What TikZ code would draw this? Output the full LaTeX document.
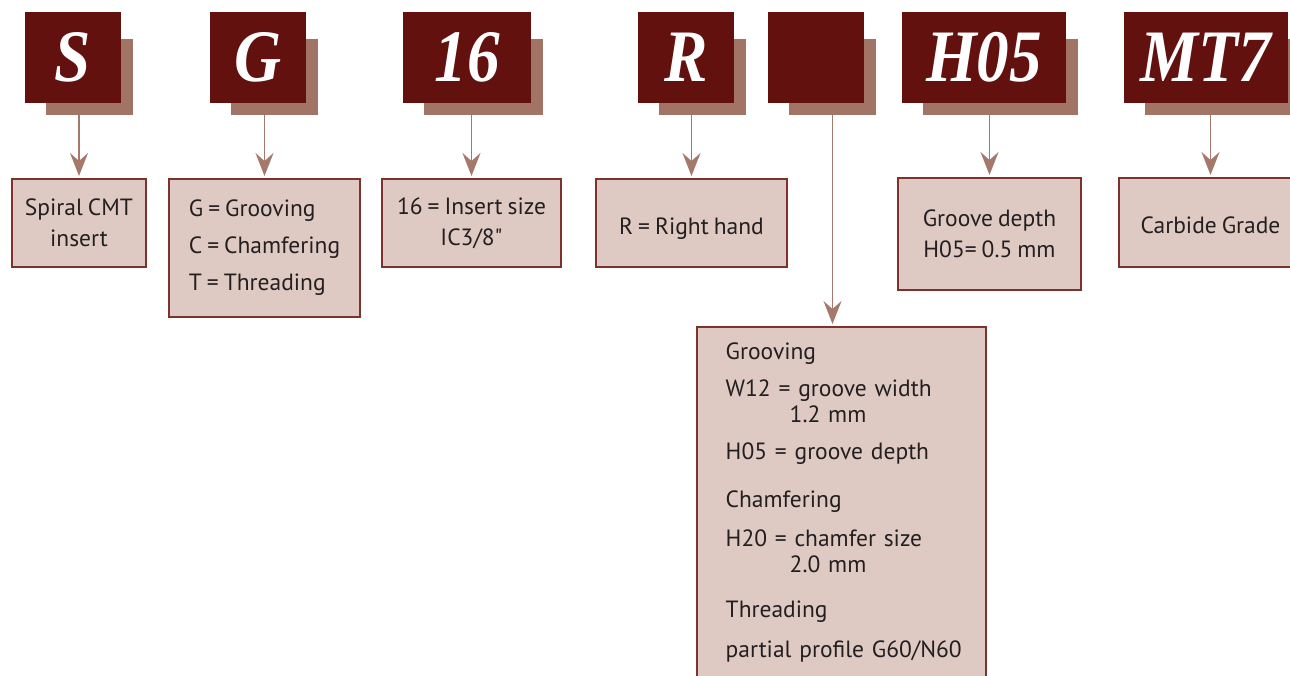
\documentclass[tikz,border=0pt]{standalone}
\usepackage{fontspec}
\setmainfont[WordSpace=0.8, Ligatures=TeXOff]{PT Sans}
\newfontfamily\codefont[FakeStretch=0.88]{Liberation Serif}
\usepackage{xcolor}
\usepackage{tikz}
\usetikzlibrary{arrows.meta}

\definecolor{codered}{RGB}{98,17,15}
\definecolor{shadebrown}{RGB}{162,116,102}
\definecolor{notefill}{RGB}{223,202,195}
\definecolor{noteline}{RGB}{125,50,45}
\definecolor{feedbrown}{RGB}{165,120,108}
\definecolor{notetext}{RGB}{35,31,32}

\begin{document}
\begin{tikzpicture}[
  x=1pt,
  y=-1pt,
  every node/.style={outer sep=0pt},
  codebox/.style={fill=codered, text=white, inner sep=0pt,
    font=\codefont\bfseries\itshape\fontsize{74}{74}\selectfont},
  shadebox/.style={fill=shadebrown, inner sep=0pt},
  notebox/.style={fill=notefill, draw=noteline, line width=1.2pt, text=notetext,
    inner sep=0pt, align=center, font=\fontsize{23.5}{31}\selectfont},
  oneline/.style={text height=22pt, text depth=0pt},
  feed/.style={draw=feedbrown, line width=1.8pt,
    -{Stealth[length=23pt,width=18pt,inset=8pt]}, shorten >=3pt},
]
\path[use as bounding box] (0,0) rectangle (1290,675);

% Code cells: name, left, right, code.
\newcommand{\codecell}[4]{%
  \node[shadebox, minimum width={(#3-#2-9)*1pt}, minimum height=76pt]
    (#1-sh) at ({(#2+#3+33)/2},77) {};
  \node[codebox, minimum width={(#3-#2)*1pt}, minimum height=91pt]
    (#1) at ({(#2+#3)/2},57.5) {#4};
}
% Note cells: name, left, right, top, bottom, text.
\newcommand{\notecell}[7][]{%
  \node[notebox, minimum width={(#4-#3)*1pt}, minimum height={(#6-#5)*1pt}, #1]
    (#2) at ({(#3+#4)/2},{(#5+#6)/2}) {#7};
}

% Top row.
\codecell{codeS}{25}{121}{S}
\codecell{codeG}{210}{306}{G}
\codecell{codeIC}{403}{531}{16}
\codecell{codeR}{638}{734}{R}
\codecell{codeX}{768}{864}{}
\codecell{codeH}{902}{1066}{H05}
\codecell{codeMT}{1124}{1288}{MT7}

% Notes.
\notecell{noteS}{12}{146}{179}{267}{Spiral CMT\\insert}
\node[notebox, align=left, minimum width=191pt, minimum height=138pt,
  font=\fontsize{23.5}{37}\selectfont] (noteG) at (264.5,248)
  {G = Grooving\\C = Chamfering\\T = Threading};
\notecell{noteIC}{382}{561}{179}{267}{16 = Insert size\\IC3/8"}
\notecell[oneline]{noteR}{596}{787}{179}{267}{R = Right hand}
\notecell{noteH}{898}{1081}{178}{290}{Groove depth\\H05= 0.5 mm}
\notecell[oneline]{noteMT}{1119}{1302}{178}{267}{Carbide Grade}

\node[notebox, align=left, anchor=north west, inner xsep=28.7pt, inner ysep=16pt,
  text width=231.6pt, font=\fontsize{23.5}{26}\selectfont] (noteX) at (697,327)
  {Grooving\\[10.7pt]
   W12 = groove width\\
   \hspace*{64pt}1.2 mm\\[11pt]
   H05 = groove depth\\[22pt]
   Chamfering\\[12.7pt]
   H20 = chamfer size\\
   \hspace*{64pt}2.0 mm\\[19.3pt]
   Threading\\[14pt]
   \mbox{partial profile G60/N60}};

% Arrows.
\foreach \c/\n in {codeS/noteS, codeG/noteG, codeIC/noteIC, codeR/noteR,
                   codeH/noteH, codeMT/noteMT} {
  \draw[feed] (\n.north |- \c-sh.south) -- (\n.north);
}
\draw[feed] (codeX-sh.south) -- (codeX-sh.south |- noteX.north);

\end{tikzpicture}
\end{document}
